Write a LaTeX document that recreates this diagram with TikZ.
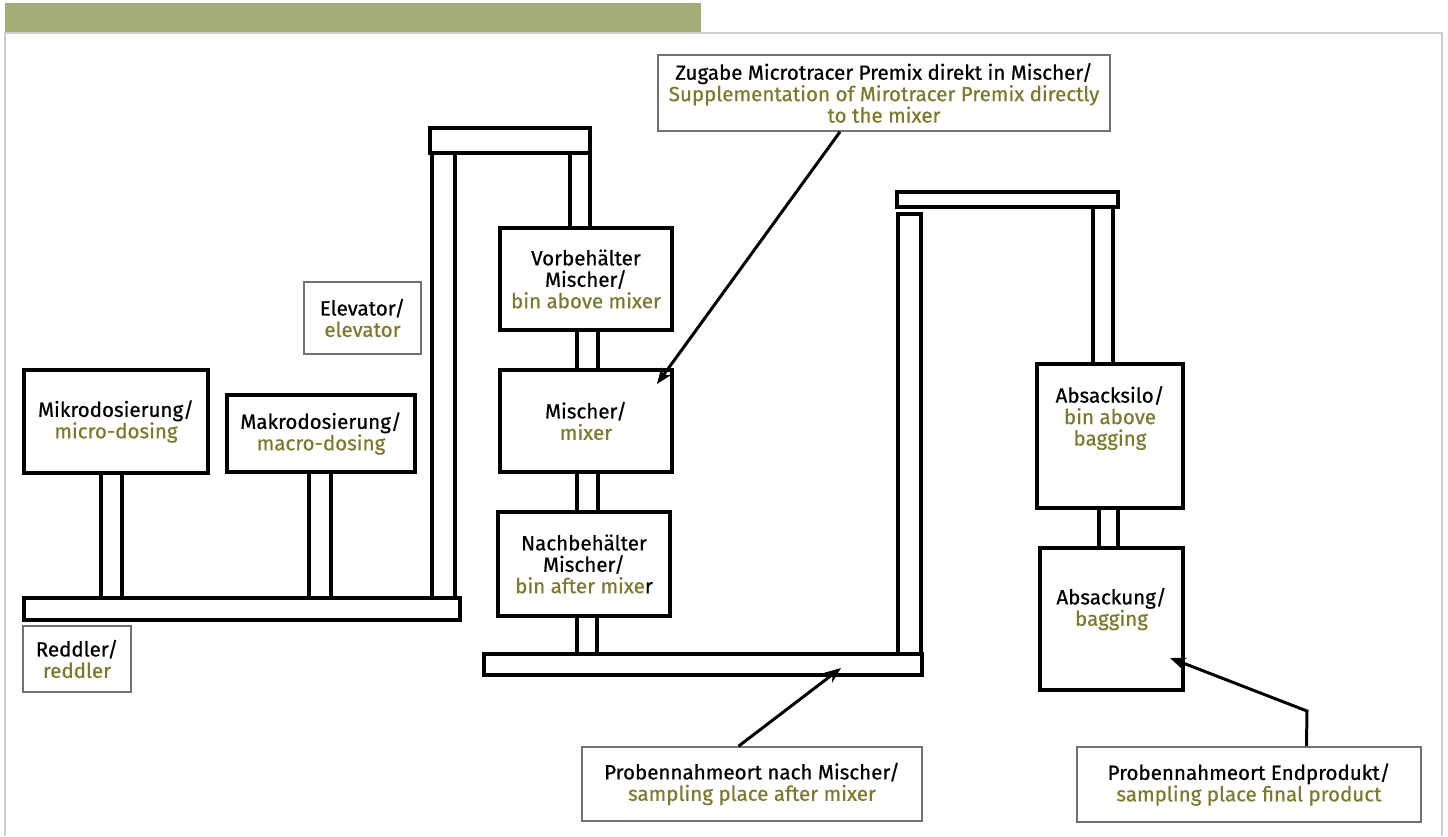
\documentclass[tikz,border=0pt]{standalone}
\usepackage{fontspec}
\setmainfont{Fira Sans}[FakeBold=0.6]
\usetikzlibrary{fit,arrows.meta}
\definecolor{headgreen}{RGB}{164,173,120}
\definecolor{engolive}{RGB}{125,122,45}
\definecolor{framegray}{RGB}{205,205,205}
\newcommand{\en}[1]{\textcolor{engolive}{#1}}
\newcommand{\boxfont}{\fontsize{11.7}{12.2}\selectfont}

\begin{document}
\begin{tikzpicture}[x=0.02cm, y=-0.02cm,
    unit/.style={draw, line width=2.4pt, fill=white, inner sep=0pt},
    tag/.style={draw=black!55, line width=0.9pt, fill=white, inner sep=0pt},
    caption/.style={align=center, font=\boxfont},
    pipe/.style={draw, line width=2.4pt, fill=white},
    pointer/.style={line width=1.7pt, -{Stealth[length=9pt,width=7pt]}}
  ]
  \useasboundingbox (0,0) rectangle (1448,836);

  % Kopfbalken und Rahmen
  \fill[headgreen] (5,3) rectangle (701,33);
  \draw[framegray, line width=0.8pt] (5,836) -- (5,33) -- (1442,33) -- (1442,836);

  % Rohre und Foerderer
  \draw[pipe] (101,473) rectangle (122,598);   % unter Mikrodosierung
  \draw[pipe] (309,472) rectangle (331,598);   % unter Makrodosierung
  \draw[pipe] (432,153) rectangle (455,598);   % Elevator links
  \draw[pipe] (570,153) rectangle (590,228);   % zum Vorbehaelter
  \draw[pipe] (430,128) rectangle (590,153);   % Elevator oben
  \draw[pipe] (24,598) rectangle (460,620);    % Reddler
  \draw[pipe] (577,330) rectangle (598,370);
  \draw[pipe] (577,472) rectangle (598,512);
  \draw[pipe] (577,616) rectangle (597,654);
  \draw[pipe] (484,654) rectangle (922,675);   % Foerderer unten
  \draw[pipe] (898,214) rectangle (921,654);   % Elevator rechts
  \draw[pipe] (1093,207) rectangle (1113,364); % zum Absacksilo
  \draw[pipe] (897,192) rectangle (1118,207);  % Elevator oben rechts
  \draw[pipe] (1099,508) rectangle (1118,548);

  % Anlagenteile
  \node[unit, fit={(24,370)(208,473)},
    label={[caption]center:Mikrodosierung/\\\en{micro-dosing}}] (micro) {};
  \node[unit, fit={(227,395)(415,472)},
    label={[caption]center:Makrodosierung/\\\en{macro-dosing}}] (macro) {};
  \node[unit, fit={(500,228)(672,330)},
    label={[caption]center:Vorbeh\"alter\\Mischer/\\\en{bin above mixer}}] (prebin) {};
  \node[unit, fit={(500,370)(672,472)},
    label={[caption]center:Mischer/\\\en{mixer}}] (mixer) {};
  \node[unit, fit={(498,512)(670,616)},
    label={[caption]center:Nachbeh\"alter\\Mischer/\\\en{bin after mixe}r}] (postbin) {};
  \node[unit, fit={(1037,364)(1183,508)},
    label={[caption, yshift=0.36cm]center:Absacksilo/\\\en{bin above}\\\en{bagging}}] (silo) {};
  \node[unit, fit={(1040,548)(1183,690)},
    label={[caption, yshift=0.2cm]center:Absackung/\\\en{bagging}}] (bagging) {};

  % Beschriftungen
  \node[tag, fit={(23,626)(131,692)},
    label={[caption]center:Reddler/\\\en{reddler}}] (reddler) {};
  \node[tag, fit={(304,282)(421,354)},
    label={[caption]center:Elevator/\\\en{elevator}}] (elevator) {};
  \node[tag, fit={(658,55)(1110,131)},
    label={[caption]center:Zugabe Microtracer Premix direkt in Mischer/\\\en{Supplementation of Mirotracer Premix directly}\\\en{to the mixer}}] (premix) {};
  \node[tag, fit={(582,747)(922,821)},
    label={[caption]center:Probennahmeort nach Mischer/\\\en{sampling place after mixer}}] (sampmix) {};
  \node[tag, fit={(1077,747)(1421,822)},
    label={[caption]center:Probennahmeort Endprodukt/\\\en{sampling place final product}}] (sampend) {};

  % Pfeile
  \coordinate (premixin) at (657,384);
  \coordinate (conveyin) at (841,668);
  \coordinate (bend) at (1307,711);
  \coordinate (bagin) at (1170,658);
  \draw[pointer] ([xshift=-0.88cm]premix.south) -- (premixin);
  \draw[pointer] ([xshift=-0.27cm]sampmix.north) -- (conveyin);
  \draw[pointer] ([xshift=1.15cm]sampend.north) -- (bend) -- (bagin);
\end{tikzpicture}
\end{document}
